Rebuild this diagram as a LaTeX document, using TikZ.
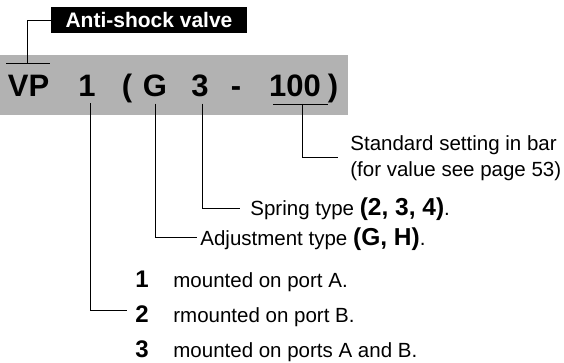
\documentclass[tikz,border=0pt]{standalone}
\usepackage{fontspec}
\setmainfont{Liberation Sans}

\begin{document}
\begin{tikzpicture}[x=1pt,y=-1pt,line width=0.8pt,
  codechar/.style={font=\fontsize{31}{31}\selectfont\bfseries,inner sep=0pt,anchor=base},
  desc/.style={font=\fontsize{20.5}{24}\selectfont,inner sep=0pt,anchor=base west},
  bignum/.style={font=\fontsize{24}{24}\selectfont\bfseries,inner sep=0pt,anchor=base}]

\useasboundingbox (0,0) rectangle (564,363);

\fill[black!30] (0,55) rectangle (348,115);

\node[fill=black,text=white,font=\fontsize{21}{21}\selectfont\bfseries,
  minimum width=196pt,minimum height=26pt,inner sep=0pt] (title) at (149,20) {Anti-shock valve};

\node[codechar] (vp) at (28.5,97) {VP};
\node[codechar] (one) at (87,97) {1};
\node[codechar] (open) at (127,97) {(};
\node[codechar] (g) at (155,97) {G};
\node[codechar] (three) at (200,97) {3};
\node[codechar] (dash) at (236,97) {-};
\node[codechar] (hundred) at (295,97) {100};
\node[codechar] (close) at (333,97) {)};

\node[desc] (setting) at (350,151) {Standard setting in bar};
\node[desc] (page) at (350,177) {(for value see page 53)};
\node[desc] (spring) at (250,215) {Spring type {\fontsize{24.5}{24}\selectfont\bfseries (2, 3, 4)}.};
\node[desc] (adjust) at (200,245) {Adjustment type {\fontsize{24.5}{24}\selectfont\bfseries (G, H)}.};

\node[bignum] (n1) at (142,287) {1};
\node[bignum] (n2) at (142,322) {2};
\node[bignum] (n3) at (142,357) {3};
\node[desc] (port1) at (173,287) {mounted on port A.};
\node[desc] (port2) at (173,322) {rmounted on port B.};
\node[desc] (port3) at (173,357) {mounted on ports A and B.};

\coordinate (vpl) at (6,63);
\coordinate (vpr) at (50,63);
\coordinate (vpm) at (27,63);
\coordinate (hl) at (273,104);
\coordinate (hr) at (328,104);
\coordinate (hm) at (302,104);

\draw (vpl) -- (vpr);
\draw (vpm) |- (title.west);
\draw (hl) -- (hr);
\draw (hm) |- ([xshift=-12pt]setting.west |- 0,157);
\draw (three.south) ++(2,6) |- ([xshift=-10pt]spring.west |- 0,208);
\draw (g.south) ++(0,6) |- ([xshift=-3pt]adjust.west |- 0,237);
\draw (one.south) ++(3,6) |- ([xshift=-8pt]n2.west |- 0,310);

\end{tikzpicture}
\end{document}
